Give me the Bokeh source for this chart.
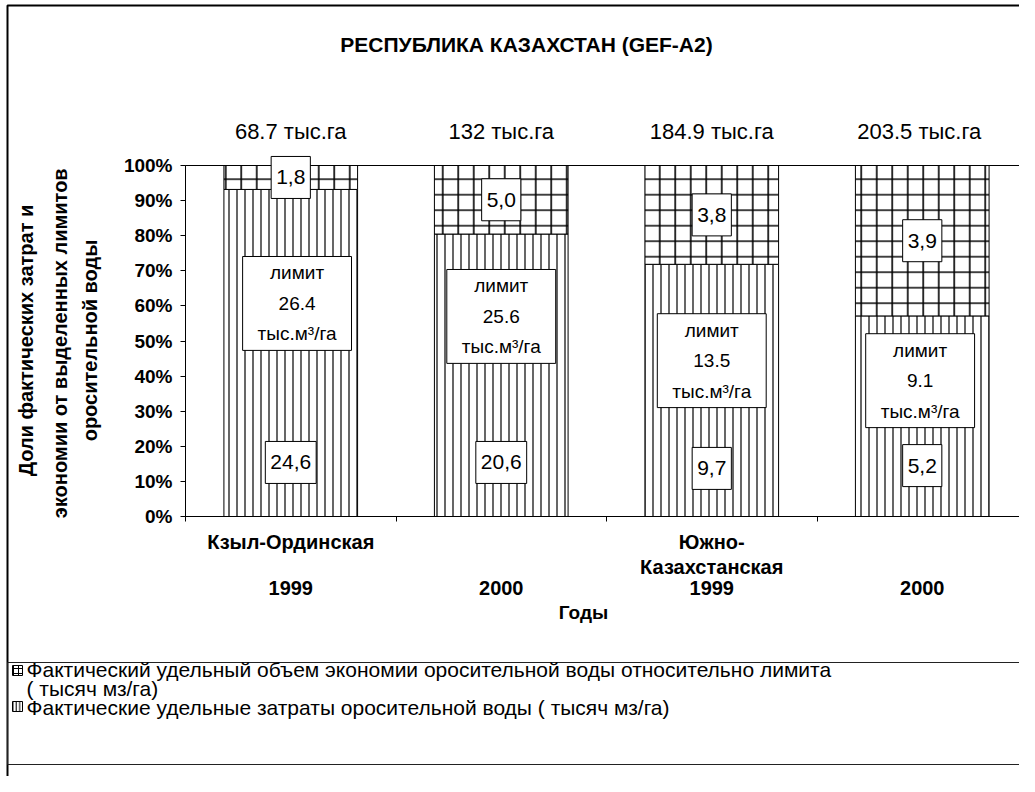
from bokeh.plotting import figure
from bokeh.models import (Range1d, FixedTicker, Label, BoxAnnotation, NumeralTickFormatter,
                          LinearAxis)
from bokeh.embed import file_html
from bokeh.resources import INLINE
import math

# ---------------- data ----------------
title_text = "РЕСПУБЛИКА КАЗАХСТАН (GEF-A2)"
regions = ["Кзыл-Ординская", "", "Южно-\nКазахстанская", ""]
years = ["1999", "2000", "1999", "2000"]
areas = ["68.7 тыс.га", "132 тыс.га", "184.9 тыс.га", "203.5  тыс.га"]
actual = [24.6, 20.6, 9.7, 5.2]      # фактические удельные затраты, тыс. м3/га
saving = [1.8, 5.0, 3.8, 3.9]        # экономия относительно лимита, тыс. м3/га
limits = [26.4, 25.6, 13.5, 9.1]     # лимит, тыс. м3/га
actual_lbl = ["24,6", "20,6", "9,7", "5,2"]
saving_lbl = ["1,8", "5,0", "3,8", "3,9"]
limit_lbl = ["26.4", "25.6", "13.5", "9.1"]
# where the in-bar boxes sit (share of the 0..100% scale)
actual_lbl_y = [0.154, 0.154, 0.137, 0.145]
limit_lbl_y = [0.607, 0.570, 0.444, 0.387]
limit_lbl_dx = [0.03, 0.0, 0.0, -0.01]
y_ticks = [0.0, 0.1, 0.2, 0.3, 0.4, 0.5, 0.6, 0.7, 0.8, 0.9, 1.0]
y_title = ["Доли фактических затрат и", "экономии  от выделенных лимитов", "оросительной воды"]
x_title = "Годы"
legend_lines = ["Фактический удельный объем экономии оросительной воды относительно лимита",
                "( тысяч мз/га)",
                "Фактические удельные затраты оросительной воды ( тысяч мз/га)"]

# ---------------- layout ----------------
W, H = 1019, 776
PL, PT, PB = 185, 165, 516          # pixel position of the value axes
UNIT_X = 210.5                      # pixels per category
NCAT = len(years)
FONT = "Liberation Sans"


def X(px):  # canvas px -> data x
    return (px - PL) / UNIT_X


def Y(py):  # canvas px -> data y
    return (PB - py) / (PB - PT)


xs = [i + 0.5 for i in range(NCAT)]
share_a = [a / l for a, l in zip(actual, limits)]
share_s = [s / l for s, l in zip(saving, limits)]
top_s = [a + s for a, s in zip(share_a, share_s)]

p = figure(width=W, height=H, x_range=Range1d(X(0), X(W)), y_range=Range1d(Y(H), Y(0)),
           output_backend="svg", toolbar_location=None,
           x_axis_type=None, y_axis_type=None,
           min_border=0, min_border_left=0, min_border_right=0,
           min_border_top=0, min_border_bottom=0)
p.title.visible = False
p.grid.visible = False
p.outline_line_color = None
p.background_fill_color = "white"
p.border_fill_color = "white"

# axes (drawn at the value origin)
xaxis = LinearAxis(fixed_location=0, bounds=(0, NCAT),
                   ticker=FixedTicker(ticks=list(range(NCAT + 1))),
                   major_label_overrides={i: "" for i in range(NCAT + 1)},
                   major_tick_out=5, major_tick_in=0, minor_tick_line_color=None,
                   axis_line_color="black", major_tick_line_color="black")
p.add_layout(xaxis, "below")
yaxis = LinearAxis(fixed_location=0, bounds=(0, 1),
                   ticker=FixedTicker(ticks=y_ticks),
                   formatter=NumeralTickFormatter(format="0%"),
                   major_tick_out=5, major_tick_in=0, minor_tick_line_color=None,
                   axis_line_color="black", major_tick_line_color="black",
                   major_label_text_font=FONT, major_label_text_font_style="bold",
                   major_label_text_font_size="19px", major_label_text_color="black",
                   major_label_standoff=8)
p.add_layout(yaxis, "left")

# bars
BW = 0.635
p.vbar(x=xs, bottom=0, top=share_a, width=BW, fill_color="white", line_color="black",
       line_width=1, hatch_pattern="|", hatch_scale=8, hatch_color="black", hatch_weight=1.2)
p.vbar(x=xs, bottom=share_a, top=top_s, width=BW, fill_color="white", line_color="black",
       line_width=1, hatch_pattern="+", hatch_scale=15.5, hatch_color="black", hatch_weight=1.6)

# plot area border (top / right)
p.add_layout(BoxAnnotation(left=0, right=NCAT, bottom=0, top=1, fill_alpha=0,
                           line_color="black", line_alpha=1, line_width=1))

# value boxes
for i in range(NCAT):
    p.add_layout(Label(x=xs[i], y=share_a[i] + share_s[i] / 2, text=saving_lbl[i],
                       text_align="center", text_baseline="middle", text_font=FONT,
                       text_font_size="21px", text_color="black",
                       background_fill_color="white", border_line_color="black",
                       padding=dict(left=5, right=5, top=14, bottom=14)))
    p.add_layout(Label(x=xs[i], y=actual_lbl_y[i], text=actual_lbl[i],
                       text_align="center", text_baseline="middle", text_font=FONT,
                       text_font_size="21px", text_color="black",
                       background_fill_color="white", border_line_color="black",
                       padding=dict(left=5, right=5, top=14, bottom=14)))
    p.add_layout(Label(x=xs[i] + limit_lbl_dx[i], y=limit_lbl_y[i],
                       text="лимит\n" + limit_lbl[i] + "\nтыс.м³/га",
                       text_align="center", text_baseline="middle", text_font=FONT,
                       text_font_size="19px", text_color="black", text_line_height=1.45,
                       background_fill_color="white", border_line_color="black",
                       padding=dict(left=15, right=15, top=6, bottom=6)))
    # area above bars
    p.add_layout(Label(x=xs[i], y=Y(131), text=areas[i], text_align="center",
                       text_baseline="middle", text_font=FONT, text_font_size="22px",
                       text_color="black"))
    # category labels
    if regions[i]:
        p.add_layout(Label(x=xs[i], y=Y(530), text=regions[i], text_align="center",
                           text_baseline="top", text_font=FONT, text_font_style="bold",
                           text_font_size="20px", text_color="black", text_line_height=1.15))
    p.add_layout(Label(x=xs[i], y=Y(587), text=years[i], text_align="center",
                       text_baseline="middle", text_font=FONT, text_font_style="bold",
                       text_font_size="20px", text_color="black"))

# title
p.add_layout(Label(x=X(526), y=Y(44), text=title_text, text_align="center",
                   text_baseline="middle", text_font=FONT, text_font_style="bold",
                   text_font_size="21px", text_color="black"))
# axis titles
for txt, cx in zip(y_title, [25, 59, 89]):
    p.add_layout(Label(x=X(cx), y=Y(340), text=txt, angle=math.pi / 2, text_align="center",
                       text_baseline="middle", text_font=FONT, text_font_style="bold",
                       text_font_size="20px", text_color="black"))
p.add_layout(Label(x=X(583), y=Y(612), text=x_title, text_align="center",
                   text_baseline="middle", text_font=FONT, text_font_style="bold",
                   text_font_size="19px", text_color="black"))

# outer border and legend frame
p.add_layout(BoxAnnotation(left=X(7), right=X(W + 200), top=Y(5), bottom=Y(H + 200),
                           fill_alpha=0, line_color="black", line_alpha=1, line_width=2))
p.add_layout(BoxAnnotation(left=X(7), right=X(W + 200), top=Y(662), bottom=Y(764),
                           fill_alpha=0, line_color="#222222", line_alpha=1, line_width=1))

# legend
p.add_layout(BoxAnnotation(left=X(12), right=X(22), top=Y(665), bottom=Y(675),
                           fill_color="white", fill_alpha=1, line_color="black", line_alpha=1,
                           line_width=1, hatch_pattern="+", hatch_scale=5, hatch_color="black",
                           hatch_alpha=1, hatch_weight=1))
p.add_layout(BoxAnnotation(left=X(12), right=X(22), top=Y(701), bottom=Y(711),
                           fill_color="white", fill_alpha=1, line_color="black", line_alpha=1,
                           line_width=1, hatch_pattern="|", hatch_scale=3.4, hatch_color="black",
                           hatch_alpha=1, hatch_weight=1))
for txt, cy in zip(legend_lines, [669, 688, 707]):
    p.add_layout(Label(x=X(26), y=Y(cy), text=txt, text_align="left",
                       text_baseline="middle", text_font=FONT, text_font_size="21px",
                       text_color="black"))

open("out.html", "w").write(file_html(p, INLINE))
